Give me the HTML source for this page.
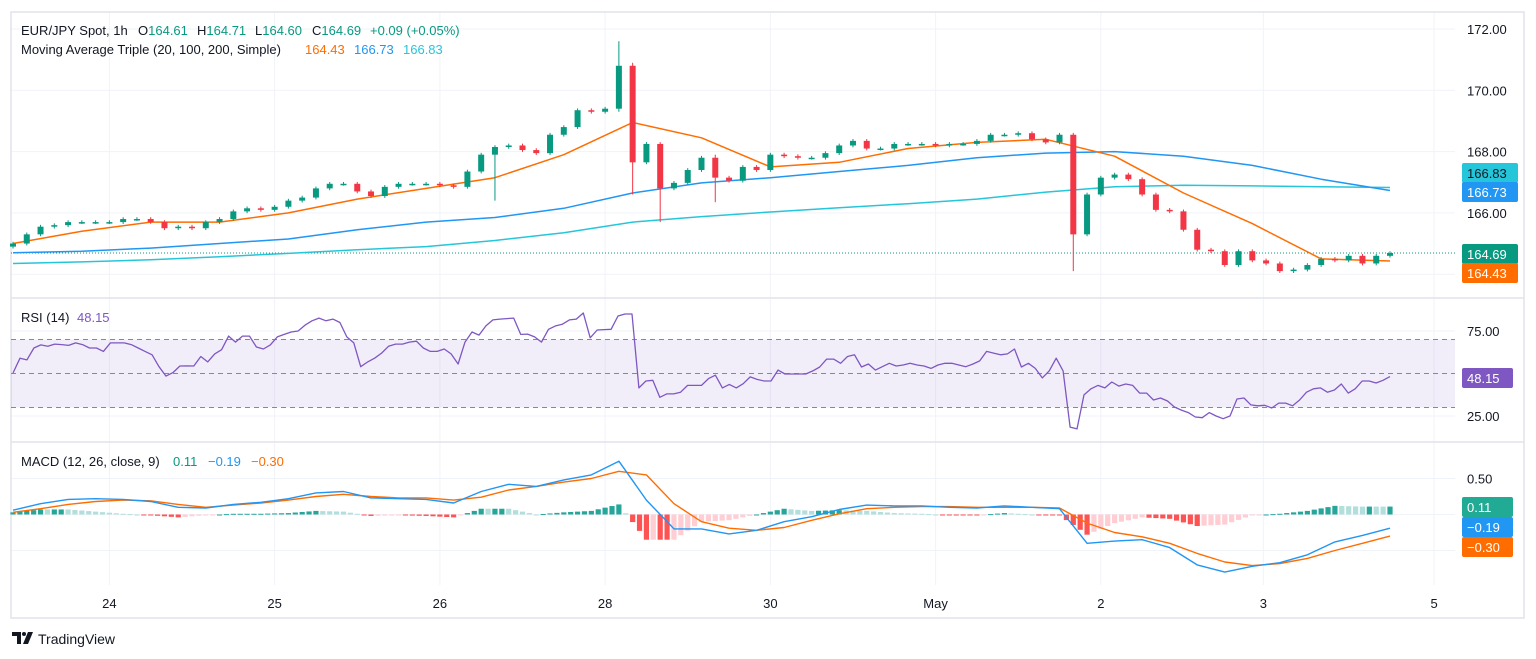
<!DOCTYPE html>
<html><head><meta charset="utf-8">
<style>
html,body{margin:0;padding:0;background:#fff;}
svg{display:block;font-family:"Liberation Sans",Arial,sans-serif;}
</style></head>
<body>
<svg id="chart" width="1536" height="659" viewBox="0 0 1536 659" xmlns="http://www.w3.org/2000/svg">
  <rect x="0" y="0" width="1536" height="659" fill="#ffffff"/>
  <g id="grid"></g>
  <rect x="11" y="12" width="1513" height="606" fill="none" stroke="#e0e3eb" stroke-width="1.5"/>
  <line x1="11" y1="298" x2="1524" y2="298" stroke="#e0e3eb" stroke-width="1.5"/>
  <line x1="11" y1="442" x2="1524" y2="442" stroke="#e0e3eb" stroke-width="1.5"/>
  <g id="rsiband"></g>
  <g id="ma"></g>
  <g id="candles"></g>
  <g id="rsi"></g>
  <g id="macd"></g>
  <g id="axes" font-size="13" fill="#131722"></g>
  <g id="tags" font-size="13"></g>

  <g font-size="13">
    <text x="21" y="35" fill="#131722">EUR/JPY Spot, 1h</text>
    <text x="138" y="35" fill="#131722">O<tspan fill="#089981">164.61</tspan></text>
    <text x="197" y="35" fill="#131722">H<tspan fill="#089981">164.71</tspan></text>
    <text x="255" y="35" fill="#131722">L<tspan fill="#089981">164.60</tspan></text>
    <text x="312" y="35" fill="#131722">C<tspan fill="#089981">164.69</tspan></text>
    <text x="370" y="35" fill="#089981">+0.09 (+0.05%)</text>
    <text x="21" y="54" fill="#131722">Moving Average Triple (20, 100, 200, Simple)</text>
    <text x="305" y="54" fill="#ff6d00">164.43</text>
    <text x="354" y="54" fill="#2196f3">166.73</text>
    <text x="403" y="54" fill="#26c6da">166.83</text>
  </g>
  <g font-size="13">
    <text x="21" y="322" fill="#131722">RSI (14)</text>
    <text x="77" y="322" fill="#7e57c2">48.15</text>
  </g>
  <g font-size="13">
    <text x="21" y="466" fill="#131722">MACD (12, 26, close, 9)</text>
    <text x="173" y="466" fill="#089981">0.11</text>
    <text x="208" y="466" fill="#2196f3">−0.19</text>
    <text x="251" y="466" fill="#ff6d00">−0.30</text>
  </g>
  <g>
    <path d="M12 632 h9 v12 h-4 v-8 h-5z" fill="#131722"/>
    <circle cx="24" cy="634" r="2" fill="#131722"/>
    <path d="M28 632 h5 l-5 12 h-5z" fill="#131722"/>
    <text x="38" y="644" font-size="14" fill="#131722">TradingView</text>
  </g>
</svg>
<script>
// ---- data ----
const closes = [165.0,165.3,165.55,165.6,165.7,165.7,165.7,165.7,165.8,165.8,
165.7,165.5,165.55,165.5,165.7,165.8,166.05,166.15,166.1,166.2,
166.4,166.5,166.8,166.95,166.95,166.7,166.55,166.85,166.95,166.95,
166.95,166.9,166.85,167.35,167.9,168.15,168.2,168.05,167.95,168.55,
168.8,169.35,169.3,169.4,170.8,167.65,168.25,166.8,166.98,167.4,
167.8,167.15,167.05,167.5,167.4,167.9,167.85,167.8,167.8,167.95,
168.2,168.35,168.1,168.1,168.25,168.25,168.25,168.2,168.25,168.25,
168.35,168.55,168.55,168.6,168.4,168.3,168.55,165.3,166.6,167.15,
167.25,167.1,166.6,166.1,166.05,165.45,164.8,164.75,164.3,164.75,
164.45,164.35,164.1,164.15,164.3,164.5,164.45,164.6,164.35,164.6,164.69];
const firstOpen = 164.9;
const spikeIdx  = [44, 45, 47, 35, 51, 77];
const spikeHigh = [171.6, 170.9, 168.3, 168.2, 167.9, 168.6];
const spikeLow  = [169.3, 166.6, 165.7, 166.4, 166.35, 164.1];
const ma20  = [165.0,165.4,165.7,165.7,166.0,166.45,166.8,167.15,167.9,168.95,168.45,167.5,167.65,168.1,168.3,168.4,167.85,166.65,165.65,164.5,164.43];
const ma100 = [164.7,164.75,164.85,165.0,165.15,165.45,165.7,165.85,166.15,166.65,166.98,167.15,167.35,167.55,167.8,167.95,168.0,167.85,167.55,167.1,166.73];
const ma200 = [164.35,164.4,164.47,164.57,164.68,164.8,164.9,165.1,165.35,165.7,165.88,166.03,166.17,166.3,166.45,166.68,166.85,166.9,166.88,166.85,166.83];
const rsiVals = [50.3,59,58,65,66.8,66,67.3,67,66.5,68,67,65,65,63,68,68,68,67,65,63,61,54,48.5,50.5,54.4,54.5,54.4,60,56.8,61.5,64,72,68.5,72,72,65.6,64.4,66.8,71.5,73,74.4,75,78.5,81,82.6,81,82,80,71.5,68,54,56.8,59,62,66,67.3,67.3,68.5,69,65,63,63,64.4,61.5,55.6,68.5,74.4,72.6,78,81.5,82,82.3,82.6,73,73.2,71.5,68.5,76,78,79,81.5,82,85.6,71,75.6,75.8,76,83.8,85,85,41.5,45.6,46,36,38,38,39,43,43,43,47,49,41.5,43.6,41.5,44,48,46.5,45.6,45.6,52,49.7,49.7,49.7,49.7,51.5,53.8,58.5,58.5,56,60,61,53.8,55.6,52,54,56,54.4,55,56,55,54.4,53,55,56,56,55,54,55.5,57.4,63,62,61,61.5,64.4,53.8,56,53,47.4,51.5,59,51.5,18.5,17.4,37.4,41,43,41.5,45,42.6,43.8,43,38.5,38.5,34.4,35.6,33.8,30.3,28.5,27,24.4,24,27,25,23.4,25,35,35.6,31.5,31,31.3,29.7,32.6,32.6,31,34.4,39,41,41.5,39,40.3,43.8,38.5,41,45.6,45.6,44.4,46,48.15];
const macdLine = [0.06,0.15,0.21,0.22,0.21,0.18,0.1,0.09,0.14,0.17,0.22,0.3,0.32,0.23,0.22,0.21,0.16,0.32,0.42,0.39,0.48,0.55,0.74,0.2,-0.2,-0.2,-0.27,-0.22,-0.1,-0.03,0.07,0.13,0.12,0.12,0.1,0.09,0.12,0.1,0.08,-0.4,-0.37,-0.35,-0.46,-0.7,-0.8,-0.72,-0.67,-0.56,-0.38,-0.29,-0.19];
const signalLine = [0.03,0.08,0.14,0.18,0.2,0.19,0.14,0.1,0.13,0.16,0.2,0.25,0.28,0.25,0.23,0.23,0.2,0.24,0.34,0.39,0.45,0.5,0.6,0.55,0.15,-0.1,-0.19,-0.22,-0.18,-0.08,0.01,0.08,0.1,0.11,0.11,0.1,0.1,0.1,0.09,-0.12,-0.25,-0.31,-0.4,-0.54,-0.66,-0.71,-0.68,-0.61,-0.5,-0.4,-0.30];
const priceTicks = [172, 170, 168, 166, 164];
const rsiTicks = [75, 25];
const macdTicks = [0.5, 0, -0.5];
const timeLabels = ["24","25","26","28","30","May","2","3","5"];
const timeLabelBars = [7, 19, 31, 43, 55, 67, 79, 90.8, 103.2];

// ---- scales ----
const X0 = 13, X1 = 1390, PLOT_R = 1455;
const nBars = closes.length;
const xBar = i => X0 + i * (X1 - X0) / (nBars - 1);
const yP = p => 29 + (172 - p) * 30.65;
const yR = v => 331 + (75 - v) * 1.7;
const yM = v => 514.5 - v * 72;
const NS = "http://www.w3.org/2000/svg";
function mk(tag, attrs, parent) {
  const e = document.createElementNS(NS, tag);
  for (const k in attrs) e.setAttribute(k, attrs[k]);
  parent.appendChild(e);
  return e;
}
const G = id => document.getElementById(id);

// ---- grid ----
const grid = G('grid');
timeLabelBars.forEach((b, i) => {
  const l = mk('line', {x1: xBar(b), x2: xBar(b), y1: 12, y2: 585, stroke: '#f0f3fa', 'stroke-width': 1}, grid);
  
  
});
priceTicks.forEach(p => {
  const l = mk('line', {x1: 11, x2: PLOT_R, y1: yP(p), y2: yP(p), stroke: '#f0f3fa', 'stroke-width': 1}, grid);
  
  
});
rsiTicks.forEach(v => {
  const l = mk('line', {x1: 11, x2: PLOT_R, y1: yR(v), y2: yR(v), stroke: '#f0f3fa', 'stroke-width': 1}, grid);
  
  
});
macdTicks.forEach(v => {
  const l = mk('line', {x1: 11, x2: PLOT_R, y1: yM(v), y2: yM(v), stroke: '#f0f3fa', 'stroke-width': 1}, grid);
  
  
});

// ---- RSI band ----
const band = G('rsiband');
const bandRect = mk('rect', {x: 11, y: yR(70), width: PLOT_R - 11, height: yR(30) - yR(70), fill: 'rgba(126,87,194,0.1)'}, band);


[70, 50, 30].forEach(v => {
  const l = mk('line', {x1: 11, x2: PLOT_R, y1: yR(v), y2: yR(v), stroke: '#868993', 'stroke-width': 1, 'stroke-dasharray': '5 4'}, band);
  
  
});

// ---- last price dotted line ----
const last = closes[nBars - 1];
const dl = mk('line', {x1: 11, x2: PLOT_R, y1: yP(last), y2: yP(last), stroke: '#089981', 'stroke-width': 1, 'stroke-dasharray': '1 2'}, G('ma'));



// ---- moving averages ----
function maPath(arr) {
  const step = (nBars - 1) / (arr.length - 1);
  return arr.map((v, k) => (k ? 'L' : 'M') + xBar(k * step).toFixed(1) + ' ' + yP(v).toFixed(1)).join(' ');
}
[[ma200, '#26c6da', 'ma200-line'], [ma100, '#2196f3', 'ma100-line'], [ma20, '#ff6d00', 'ma20-line']].forEach(([arr, col, nm]) => {
  const p = mk('path', {d: maPath(arr), fill: 'none', stroke: col, 'stroke-width': 1.5, 'stroke-linejoin': 'round'}, G('ma'));
  
  
});

// ---- candles ----
const cg = G('candles');
for (let i = 0; i < nBars; i++) {
  const o = i ? closes[i - 1] : firstOpen, c = closes[i];
  let hi = Math.max(o, c) + 0.06, lo = Math.min(o, c) - 0.06;
  const s = spikeIdx.indexOf(i);
  if (s >= 0) { hi = Math.max(hi, spikeHigh[s]); lo = Math.min(lo, spikeLow[s]); }
  const col = c >= o ? '#089981' : '#f23645';
  const x = xBar(i);
  const w = mk('line', {x1: x, x2: x, y1: yP(hi), y2: yP(lo), stroke: col, 'stroke-width': 1}, cg);
  
  
  const top = yP(Math.max(o, c)), bh = Math.max(1.5, yP(Math.min(o, c)) - top);
  const b = mk('rect', {x: x - 3, y: top, width: 6, height: bh, fill: col}, cg);
  
  
}

// ---- RSI line ----
const rStep = (X1 - X0) / (rsiVals.length - 1);
const rd = rsiVals.map((v, j) => (j ? 'L' : 'M') + (X0 + j * rStep).toFixed(1) + ' ' + yR(v).toFixed(1)).join(' ');
const rl = mk('path', {d: rd, fill: 'none', stroke: '#7e57c2', 'stroke-width': 1.3, 'stroke-linejoin': 'round'}, G('rsi'));



// ---- MACD ----
const mg = G('macd');
const mStep = (nBars - 1) / (macdLine.length - 1);
const interp = (arr, t) => { const k = Math.min(arr.length - 2, Math.floor(t)); const f = t - k; return arr[k] * (1 - f) + arr[k + 1] * f; };
const nHist = (nBars - 1) * 2 + 1;
let prev = 0;
for (let h = 0; h < nHist; h++) {
  const t = (h / 2) / mStep;
  const v = interp(macdLine, t) - interp(signalLine, t);
  let col;
  if (v >= 0) col = v >= prev ? '#26a69a' : '#b2dfdb';
  else col = v <= prev ? '#ff5252' : '#ffcdd2';
  prev = v;
  const x = xBar(h / 2);
  const y0 = yM(0), y1 = yM(v);
  const r = mk('rect', {x: x - 2.6, y: Math.min(y0, y1), width: 5.2, height: Math.max(1, Math.abs(y1 - y0)), fill: col}, mg);
  
  
}
[[signalLine, '#ff6d00', 'macd-signal-line'], [macdLine, '#2196f3', 'macd-line']].forEach(([arr, col, nm]) => {
  const d = arr.map((v, k) => (k ? 'L' : 'M') + xBar(k * mStep).toFixed(1) + ' ' + yM(v).toFixed(1)).join(' ');
  const p = mk('path', {d, fill: 'none', stroke: col, 'stroke-width': 1.4, 'stroke-linejoin': 'round'}, mg);
  
  
});

// ---- axes labels ----
const ax = G('axes');
priceTicks.filter(p => p > 164).forEach(p => {
  const t = mk('text', {x: 1467, y: yP(p) + 5}, ax);
  t.textContent = p.toFixed(2);
  
  
});
rsiTicks.forEach(v => {
  const t = mk('text', {x: 1467, y: yR(v) + 5}, ax);
  t.textContent = v.toFixed(2);
  
  
});
[0.5].forEach(v => {
  const t = mk('text', {x: 1467, y: yM(v) + 5}, ax);
  t.textContent = v.toFixed(2);
  
  
});
timeLabels.forEach((lab, i) => {
  const t = mk('text', {x: xBar(timeLabelBars[i]), y: 608, 'text-anchor': 'middle'}, ax);
  t.textContent = lab;
  
  
});

// ---- tags ----
const tg = G('tags');
const tagText = ['166.83', '166.73', '164.69', '164.43', '48.15', '0.11', '−0.19', '−0.30'];
const tagTop = [163, 182, 244, 263, 368, 497, 517, 537];
const tagCol = ['#26c6da', '#2196f3', '#089981', '#ff6d00', '#7e57c2', '#22ab94', '#2196f3', '#ff6d00'];
const tagW = [56, 56, 56, 56, 51, 51, 51, 51];
const tagNames = ['ma200-tag', 'ma100-tag', 'last-price-tag', 'ma20-tag', 'rsi-tag', 'macd-hist-tag', 'macd-line-tag', 'macd-signal-tag'];
tagText.forEach((s, i) => {
  const r = mk('rect', {x: 1462, y: tagTop[i], width: tagW[i], height: 20, rx: 2, fill: tagCol[i]}, tg);
  
  
  const t = mk('text', {x: 1467, y: tagTop[i] + 15, fill: i === 0 ? '#131722' : '#ffffff'}, tg);
  t.textContent = s;
  
  
});
</script>
</body></html>
